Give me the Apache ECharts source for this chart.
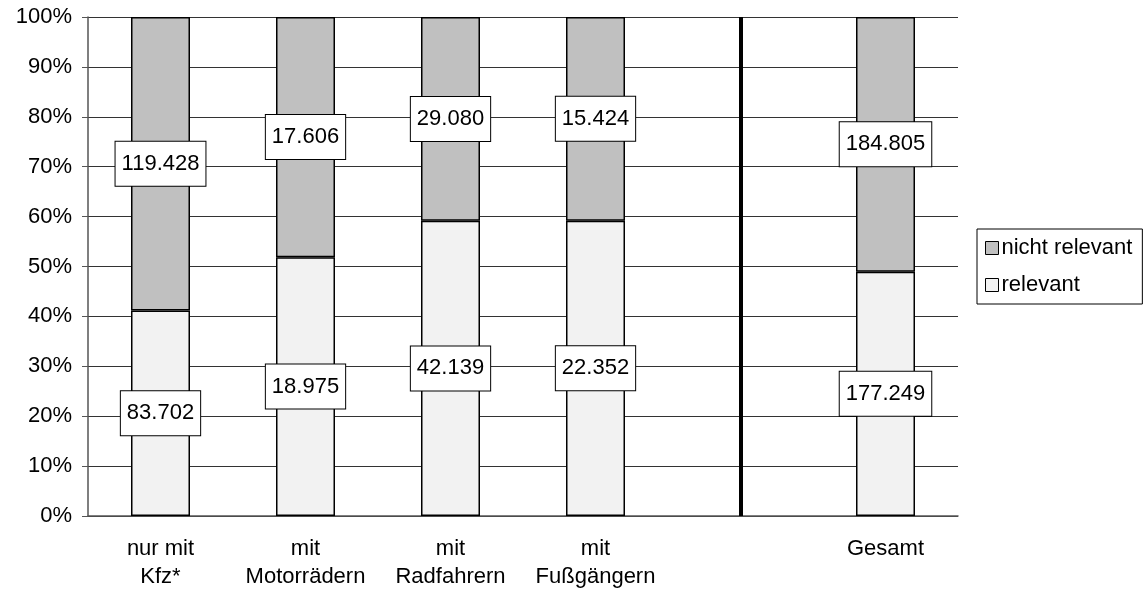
<!DOCTYPE html>
<html>
<head>
<meta charset="utf-8">
<script src="https://cdn.jsdelivr.net/npm/echarts@6/dist/echarts.min.js"></script>
<style>
html,body{margin:0;padding:0;background:#fff;}
#chart{width:1146px;height:592px;}
</style>
</head>
<body>
<div id="chart"></div>
<script>
var categories = ['nur mit\nKfz*', 'mit\nMotorrädern', 'mit\nRadfahrern', 'mit\nFußgängern', '', 'Gesamt'];
var relevant = [83702, 18975, 42139, 22352, null, 177249];
var nichtRelevant = [119428, 17606, 29080, 15424, null, 184805];
var yTicks = [0, 10, 20, 30, 40, 50, 60, 70, 80, 90, 100];

function pct(a, b) { return a == null ? '-' : a / (a + b) * 100; }
var relPct = relevant.map(function (v, i) { return pct(v, nichtRelevant[i]); });
var nrPct = nichtRelevant.map(function (v, i) { return pct(v, relevant[i]); });
function fmt(n) { return String(n).replace(/\B(?=(\d{3})+(?!\d))/g, '.'); }

var FONT = 'Liberation Sans, Arial, sans-serif';
var labelStyle = {
  show: true,
  position: 'inside',
  color: '#000',
  fontFamily: FONT,
  fontSize: 22,
  lineHeight: 22,
  backgroundColor: '#fff',
  borderColor: '#000',
  borderWidth: 1,
  padding: [11, 6, 11, 6]
};

var chart = echarts.init(document.getElementById('chart'), null, { renderer: 'canvas' });
chart.setOption({
  animation: false,
  backgroundColor: '#fff',
  grid: { left: 88, right: 188, top: 17, bottom: 76, containLabel: false },
  legend: {
    orient: 'vertical',
    left: 977,
    top: 229,
    padding: [8, 10, 8, 8],
    itemWidth: 13,
    itemHeight: 13,
    itemGap: 15,
    borderColor: '#000',
    borderWidth: 1,
    icon: 'rect',
    selectedMode: false,
    textStyle: { color: '#000', fontFamily: FONT, fontSize: 22, padding: [0, 0, 0, -2] },
    data: [
      { name: 'nicht relevant', itemStyle: { color: '#c0c0c0', borderColor: '#000', borderWidth: 1 } },
      { name: 'relevant', itemStyle: { color: '#f2f2f2', borderColor: '#000', borderWidth: 1 } }
    ]
  },
  xAxis: {
    type: 'category',
    data: categories,
    axisLine: { show: true, lineStyle: { color: '#555', width: 1.5 } },
    axisTick: { show: false },
    axisLabel: { color: '#000', fontFamily: FONT, fontSize: 22, lineHeight: 28, margin: 19, interval: 0 }
  },
  yAxis: {
    type: 'value',
    min: 0,
    max: 100,
    interval: 10,
    axisLine: { show: true, lineStyle: { color: '#555', width: 1.5 } },
    axisTick: { show: true, inside: false, length: 6, lineStyle: { color: '#555' } },
    axisLabel: {
      color: '#000', fontFamily: FONT, fontSize: 22, margin: 16,
      formatter: function (v) { return yTicks.indexOf(v) >= 0 ? v + '%' : ''; }
    },
    splitLine: { show: true, lineStyle: { color: '#333', width: 1.2 } }
  },
  series: [
    {
      name: 'relevant',
      type: 'bar',
      stack: 'a',
      barWidth: 59,
      data: relPct,
      itemStyle: { color: '#f2f2f2', borderColor: '#000', borderWidth: 1.5 },
      label: Object.assign({}, labelStyle, {
        formatter: function (p) { return fmt(relevant[p.dataIndex]); }
      }),
      markLine: {
        silent: true,
        symbol: 'none',
        label: { show: false },
        lineStyle: { color: '#000', width: 4, type: 'solid' },
        data: [{ xAxis: 4 }]
      },
      z: 3
    },
    {
      name: 'nicht relevant',
      type: 'bar',
      stack: 'a',
      barWidth: 59,
      data: nrPct,
      itemStyle: { color: '#c0c0c0', borderColor: '#000', borderWidth: 1.5 },
      label: Object.assign({}, labelStyle, {
        formatter: function (p) { return fmt(nichtRelevant[p.dataIndex]); }
      }),
      z: 2
    }
  ]
});
</script>
</body>
</html>
